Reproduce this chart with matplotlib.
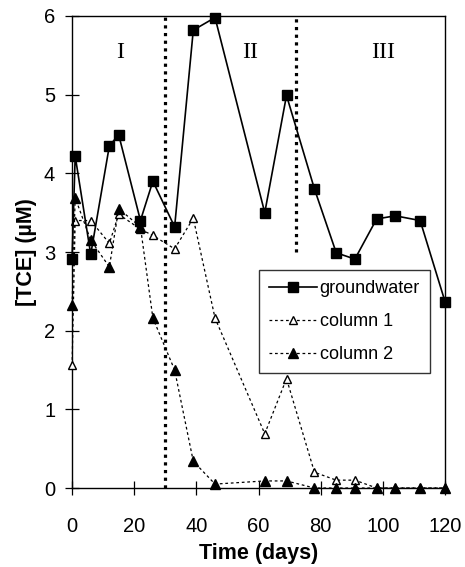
import matplotlib
matplotlib.use("Agg")
import matplotlib.pyplot as plt

# Sampling days and TCE concentrations (µM)
days = [0, 1, 6, 12, 15, 22, 26, 33, 39, 46, 62, 69, 78, 85, 91, 98, 104, 112, 120]
groundwater = [2.91, 4.22, 2.97, 4.35, 4.49, 3.40, 3.90, 3.32, 5.82, 5.98,
               3.50, 4.99, 3.80, 2.99, 2.91, 3.42, 3.46, 3.40, 2.37]
column1 = [1.56, 3.40, 3.40, 3.11, 3.48, 3.29, 3.21, 3.04, 3.43, 2.16,
           0.69, 1.39, 0.20, 0.10, 0.10, 0.0, 0.0, 0.0, 0.0]
column2 = [2.33, 3.69, 3.15, 2.81, 3.55, 3.32, 2.16, 1.50, 0.34, 0.05,
           0.09, 0.09, 0.0, 0.0, 0.0, 0.0, 0.0, 0.0, 0.0]

# Phase boundaries and labels
phase_bounds = [30, 72]
phase_names = ["I", "II", "III"]
phase_label_x = [15.4, 57.3, 100]

xticks = [0, 20, 40, 60, 80, 100, 120]
yticks = [0, 1, 2, 3, 4, 5, 6]

plt.rcParams["font.family"] = ["Liberation Sans", "DejaVu Sans"]

fig = plt.figure(figsize=(4.65, 5.67), dpi=100)
ax = fig.add_axes([0.155, 0.1393, 0.802, 0.8325])

ax.plot(days, groundwater, color="black", lw=1.2, marker="s", ms=6.5,
        mfc="black", mec="black", label="groundwater", zorder=4, clip_on=False)
ax.plot(days, column1, color="black", lw=0.9, ls=(0, (2.2, 2.2)), marker="^",
        ms=5.5, mfc="white", mec="black", mew=1.0, label="column 1", zorder=3,
        clip_on=False)
ax.plot(days, column2, color="black", lw=0.9, ls=(0, (2.2, 2.2)), marker="^",
        ms=6.5, mfc="black", mec="black", label="column 2", zorder=3,
        clip_on=False)

# Phase separators
ax.plot([phase_bounds[0]] * 2, [0, 6], color="black", lw=2.3,
        ls=(0, (1.0, 1.4)), zorder=2)
ax.plot([phase_bounds[1]] * 2, [3.0, 6], color="black", lw=2.3,
        ls=(0, (1.0, 1.4)), zorder=2)

for x, name in zip(phase_label_x, phase_names):
    ax.text(x, 5.54, name, ha="center", va="center", fontsize=17,
            family=["Liberation Serif", "DejaVu Serif"])

ax.set_xlim(0, 120)
ax.set_ylim(0, 6)
ax.set_xticks(xticks)
ax.set_yticks(yticks)
ax.tick_params(direction="inout", length=9.4, width=0.9, labelsize=14.5)
ax.tick_params(axis="x", pad=16.5)
ax.tick_params(axis="y", pad=7.5)
for s in ax.spines.values():
    s.set_linewidth(1.0)

ax.set_xlabel("Time (days)", fontsize=15.5, fontweight="bold", labelpad=5)
ax.set_ylabel("[TCE] (µM)", fontsize=15.5, fontweight="bold", labelpad=5)

leg = ax.legend(loc="upper left", bbox_to_anchor=(0.501, 0.462),
                borderaxespad=0, frameon=True, fancybox=False, fontsize=13.0,
                handlelength=2.65, labelspacing=0.9, borderpad=0.55,
                handletextpad=0.16)
leg.get_frame().set_edgecolor("black")
leg.get_frame().set_linewidth(1.0)

fig.savefig("out.png", dpi=100)
